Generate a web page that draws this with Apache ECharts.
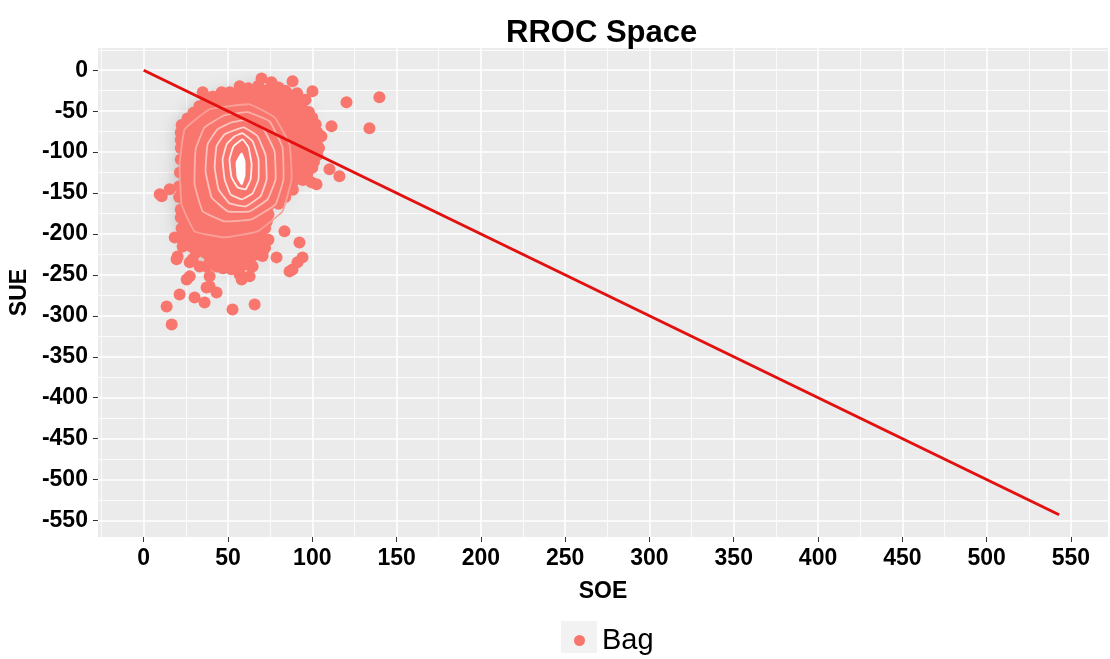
<!DOCTYPE html>
<html>
<head>
<meta charset="utf-8">
<script src="https://cdn.jsdelivr.net/npm/echarts@6/dist/echarts.min.js"></script>
<style>
html,body{margin:0;padding:0;background:#fff;}
#chart{width:1110px;height:659px;}
</style>
</head>
<body>
<div id="chart"></div>
<script>
// ---------- DATA ----------
const xTicks = [0, 50, 100, 150, 200, 250, 300, 350, 400, 450, 500, 550];
const yTicks = [0, -50, -100, -150, -200, -250, -300, -350, -400, -450, -500, -550];

// diagonal reference line (SOE, SUE)
const lineX = [0, 543];
const lineY = [0, -543];

// dense core of the "Bag" point cloud (outline of the solid region)
const bodyX = [22.5, 29.5, 37, 46, 57, 68, 76, 84, 91, 96, 98, 102, 103, 103, 100, 94.5, 88.5, 80, 74, 72, 74, 70.5, 62.5, 57, 47, 39, 31, 25.5, 22.5, 22, 21, 22, 22];
const bodyY = [-67, -52, -36, -30, -24, -19, -18, -25, -28, -36, -51, -66, -85, -104, -119, -134, -146, -163, -176, -193, -207, -227, -238, -242, -242, -235, -223, -207, -193, -170, -142, -109, -85];

// individual "Bag" points: edge of the cloud and outliers
const bagX = [22.5, 26, 29.5, 33, 37, 41, 46, 51, 57, 62, 68, 76, 80, 84, 91, 96, 98, 100, 102, 103, 103, 104, 103, 101, 100, 97, 94.5, 88.5, 84, 80, 74, 73, 72, 74, 72, 70.5, 62.5, 57, 52, 47, 39, 31, 28, 25.5, 22.5, 22, 22, 21, 21, 21.5, 22, 22, 22, 22,
  88.3, 75.8, 56.9, 35, 46.2, 100.1, 84.7, 92.4, 120.3, 139.8, 133.9, 111.4, 105.4, 110.2, 116.1, 99.5, 102.5, 92.4, 94.2, 88.3, 91.2, 83.5, 9.5, 15.4, 18.4, 19.5, 25.5, 27.3, 21.3, 13.6, 16.6, 30.2, 36.1, 43.2, 52.7, 65.8, 58.1, 37.3, 29, 43.2, 62.8, 39.1, 39.1, 33.2, 27.3, 37.3, 78.8, 70.5, 64.6, 56.9, 23.1, 22.5, 10.7, 20.1, 69.9, 86.5];
const bagY = [-67, -59, -52, -44, -36, -32, -30, -27, -24, -22, -19, -18, -21, -25, -28, -36, -51, -58, -66, -76, -85, -95, -104, -112, -119, -127, -134, -146, -155, -163, -176, -185, -193, -207, -217, -227, -238, -242, -243, -242, -235, -223, -215, -207, -193, -180, -170, -155, -142, -125, -109, -95, -85, -76,
  -13.4, -14.7, -19.6, -26.9, -26.9, -25.7, -26.9, -35.5, -39.1, -33, -70.9, -68.5, -80.7, -121, -129.6, -136.9, -139.4, -210.3, -228.6, -243.3, -234.7, -196.8, -151.6, -145.5, -204.2, -231, -255.5, -251.8, -273.8, -288.5, -310.5, -277.5, -283.6, -271.4, -292.2, -286.1, -255.5, -239.6, -231, -239.6, -251.8, -264.1, -251.8, -239.6, -234.7, -265.3, -228.6, -222.5, -239.6, -249.4, -215.2, -206.6, -154, -227.4, -10, -245.7];

// density contour rings (outer -> inner)
const ring7 = [[62.8,-41.6],[77.6,-57.5],[86.5,-90.5],[87.7,-133.3],[82.3,-172.4],[67.5,-196.8],[48.0,-204.2],[30.2,-196.8],[22.5,-163.8],[21.3,-114.9],[24.3,-72.1],[39.1,-47.7]];
const ring6 = [[61.6,-51.3],[74.6,-62.3],[82.3,-94.1],[82.9,-133.3],[78.2,-163.8],[64.0,-182.2],[48.0,-184.6],[35.0,-172.4],[30.2,-139.4],[30.8,-96.6],[36.1,-69.7],[48.0,-55.0]];
const ring5 = [[59.8,-61.1],[71.1,-72.1],[77.6,-99.0],[78.2,-133.3],[73.5,-157.7],[62.8,-172.4],[49.8,-172.4],[40.3,-155.3],[36.7,-123.5],[37.9,-90.5],[43.8,-72.1],[52.1,-63.6]];
const ring4 = [[59.2,-69.7],[67.5,-80.7],[72.3,-103.9],[72.9,-133.3],[69.3,-154.0],[60.4,-166.3],[50.9,-162.6],[44.4,-145.5],[42.1,-118.6],[43.2,-92.9],[48.0,-78.2]];
const ring3 = [[58.6,-77.0],[64.6,-86.8],[68.1,-108.8],[68.1,-133.3],[64.6,-150.4],[58.1,-157.7],[51.5,-151.6],[48.0,-133.3],[46.8,-108.8],[49.2,-90.5],[53.9,-80.7]];
const ring2 = [[58.6,-84.4],[62.2,-94.1],[64.0,-114.9],[63.4,-133.3],[60.4,-145.5],[55.7,-143.0],[52.1,-130.8],[50.9,-108.8],[53.3,-92.9]];
const ring1 = [[58.1,-101.5],[59.8,-111.2],[59.8,-128.4],[58.1,-139.4],[55.7,-130.8],[55.1,-112.5]];
const rings = [ring7, ring6, ring5, ring4, ring3, ring2, ring1];

// ---------- STYLE ----------
const FONT = "'Liberation Sans', Arial, Helvetica, sans-serif";
const BAG = '#F8766D';
const ringColors = ['#FA9F98', '#FBB1AB', '#FCC0BB', '#FDD0CC', '#FEE0DD', '#FFF0EE', '#FFFFFF'];

const chart = echarts.init(document.getElementById('chart'), null, {renderer: 'canvas'});

const axisCommon = {
  type: 'value',
  minInterval: 50,
  maxInterval: 50,
  nameLocation: 'middle',
  nameTextStyle: {fontFamily: FONT, fontWeight: 'bold', fontSize: 23, color: '#000'},
  axisLine: {show: false, onZero: false},
  splitLine: {show: true, lineStyle: {color: '#ffffff', width: 1.5}},
  minorTick: {show: false, splitNumber: 2},
  minorSplitLine: {show: true, lineStyle: {color: '#ffffff', width: 0.8}}
};

const option = {
  animation: false,
  backgroundColor: '#ffffff',
  title: {
    text: 'RROC Space',
    left: 506, top: 18, padding: 0,
    textStyle: {fontFamily: FONT, fontWeight: 'bold', fontSize: 31, color: '#000'}
  },
  grid: {left: 97, right: 2, top: 48, bottom: 122, show: true, backgroundColor: '#EBEBEB', borderWidth: 0},
  xAxis: Object.assign({}, axisCommon, {
    min: -27.15, max: 572,
    name: 'SOE', nameGap: 43,
    axisTick: {show: true, length: 5, lineStyle: {color: '#333', width: 1}, customValues: xTicks},
    axisLabel: {customValues: xTicks, margin: 10, fontFamily: FONT, fontWeight: 'bold', fontSize: 23, color: '#000'}
  }),
  yAxis: Object.assign({}, axisCommon, {
    min: -570.15, max: 27.15,
    name: 'SUE', nameGap: 56,
    axisTick: {show: true, length: 5, lineStyle: {color: '#333', width: 1}, customValues: yTicks},
    axisLabel: {customValues: yTicks, margin: 10, fontFamily: FONT, fontWeight: 'bold', fontSize: 23, color: '#000'}
  }),
  legend: {
    data: [{name: 'Bag', icon: 'circle'}],
    left: 569, top: 621,
    itemWidth: 11, itemHeight: 11,
    selectedMode: false,
    textStyle: {fontFamily: FONT, fontSize: 29, color: '#000', padding: [0, 0, 0, 12]}
  },
  graphic: [{
    type: 'rect', left: 561, top: 621, z: 0, silent: true,
    shape: {width: 36, height: 32}, style: {fill: '#F2F2F2'}
  }],
  series: [
    {
      name: 'Bag',
      type: 'scatter',
      symbol: 'circle',
      symbolSize: 12,
      z: 3,
      itemStyle: {color: BAG, opacity: 1},
      data: bagX.map((x, i) => [x, bagY[i]])
    },
    {
      name: 'core',
      type: 'custom',
      z: 2,
      silent: true,
      data: [[bodyX[0], bodyY[0]]],
      renderItem: function (params, api) {
        const pts = bodyX.map((x, i) => api.coord([x, bodyY[i]]));
        return {
          type: 'polygon',
          shape: {points: pts, smooth: 0.2},
          style: {fill: BAG, shadowBlur: 16, shadowColor: 'rgba(120,120,120,0.35)', shadowOffsetX: -5}
        };
      }
    },
    {
      name: 'contours',
      type: 'custom',
      z: 4,
      silent: true,
      data: rings.map((r, i) => [r[0][0], r[0][1], i]),
      renderItem: function (params, api) {
        const idx = api.value(2);
        const pts = rings[idx].map(p => api.coord(p));
        const inner = idx === rings.length - 1;
        return {
          type: 'polygon',
          shape: {points: pts, smooth: 0.1},
          style: {fill: inner ? '#FFFFFF' : null, stroke: ringColors[idx], lineWidth: 1.8}
        };
      }
    },
    {
      name: 'diag',
      type: 'line',
      z: 5,
      silent: true,
      symbol: 'none',
      lineStyle: {color: '#E31010', width: 3},
      data: lineX.map((x, i) => [x, lineY[i]])
    }
  ]
};

chart.setOption(option);
</script>
</body>
</html>
